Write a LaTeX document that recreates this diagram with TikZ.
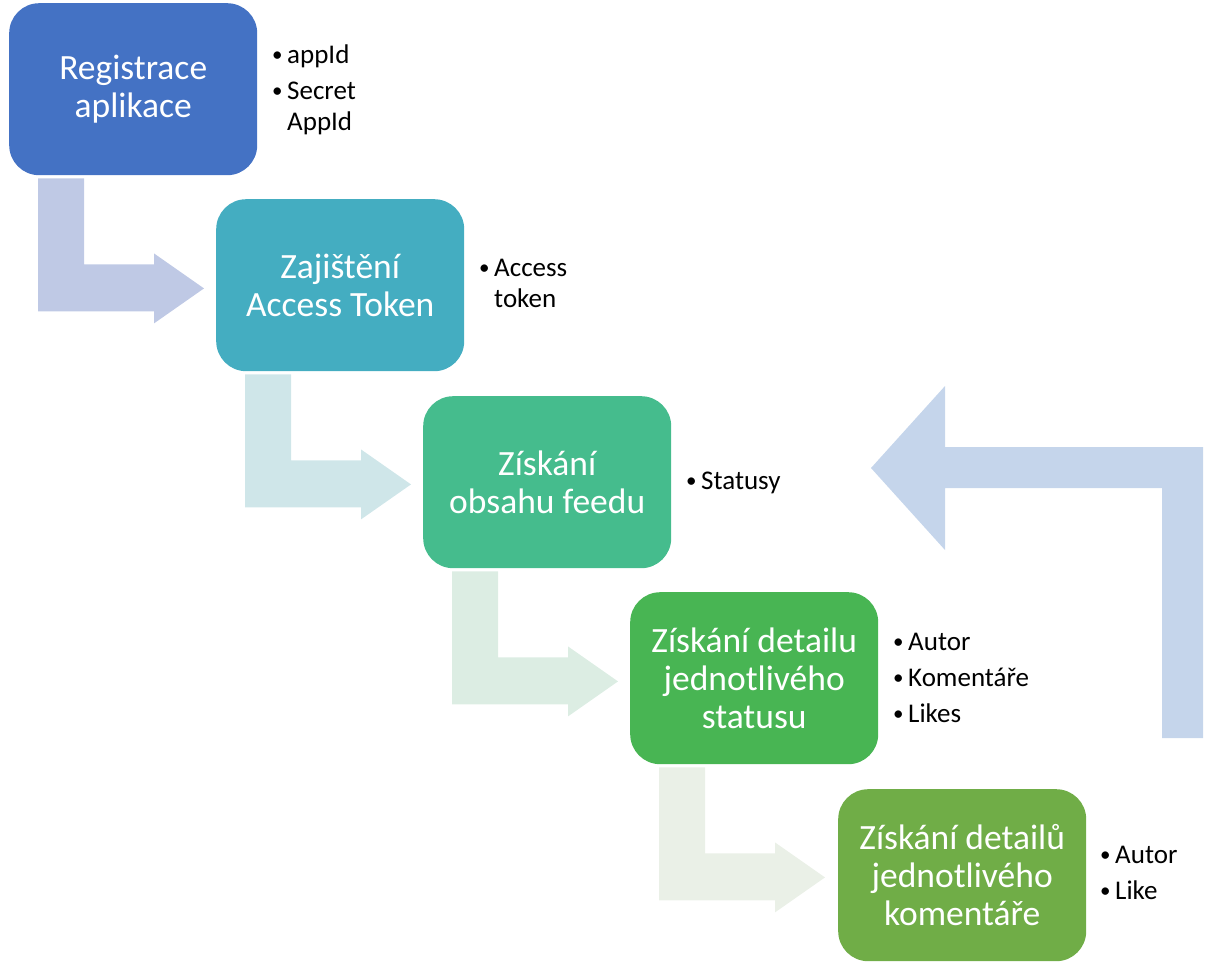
\documentclass[tikz,border=0pt]{standalone}
\usepackage{fontspec}
\setmainfont{Carlito}
\usetikzlibrary{calc}
\definecolor{cA}{HTML}{4472C4}
\definecolor{cB}{HTML}{44ADC1}
\definecolor{cC}{HTML}{45BC8D}
\definecolor{cD}{HTML}{48B553}
\definecolor{cE}{HTML}{70AD47}
\definecolor{aA}{HTML}{BFC9E5}
\definecolor{aB}{HTML}{CFE6E9}
\definecolor{aC}{HTML}{DCEDE3}
\definecolor{aD}{HTML}{EAF0E7}
\definecolor{aR}{HTML}{C5D5EB}
\newcommand\bul{\makebox[16pt][l]{\hspace*{1pt}\raisebox{1.5pt}{\fontsize{21pt}{21pt}\selectfont\textbullet}}}
\newcommand\ind{\hspace*{16pt}}
\tikzset{
  stepbox/.style={rectangle, rounded corners=30pt, minimum width=248pt, minimum height=172pt,
    inner sep=0pt, text=white, align=center, font=\fontsize{35.5pt}{38pt}\selectfont},
  bullist/.style={anchor=base west, inner sep=0pt, align=left, text=black,
    font=\fontsize{27pt}{31pt}\selectfont}
}
\newcommand\bentarrow[2]{%
  \fill[#2, shift={#1}] (0,0) -- (46,0) -- (46,86) -- (116,86) -- (116,75) -- (166,110)
    -- (116,145) -- (116,133) -- (0,133) -- cycle;}
\begin{document}
\begin{tikzpicture}[x=1pt,y=-1pt]
\useasboundingbox (0,0) rectangle (1213,978);
% boxes
\node[stepbox, fill=cA, anchor=north west] (b1) at (9,3) {Registrace\\aplikace};
\node[stepbox, fill=cB, anchor=north west] (b2) at (216,199) {Zajištění\\Access Token};
\node[stepbox, fill=cC, anchor=north west] (b3) at (423,396) {Získání\\obsahu feedu};
\node[stepbox, fill=cD, anchor=north west] (b4) at (630,592) {Získání detailu\\jednotlivého\\statusu};
\node[stepbox, fill=cE, anchor=north west] (b5) at (838,789) {Získání detailů\\jednotlivého\\komentáře};
% bent arrows
\bentarrow{($(b1.south west)+(29,3)$)}{aA}
\bentarrow{($(b2.south west)+(29,3)$)}{aB}
\bentarrow{($(b3.south west)+(29,3)$)}{aC}
\bentarrow{($(b4.south west)+(29,3)$)}{aD}
% return arrow
\coordinate (rt) at (871,468);
\fill[aR] (rt) -- (945,386) -- (945,447) -- (1203,447) -- (1203,738) -- (1162,738)
  -- (1162,488) -- (945,488) -- (945,550) -- cycle;
% bullet lists (anchored at the baseline of their last line)
\node[bullist] (l1) at (271,130) {\bul appId\\[5pt]\bul Secret\\\ind AppId};
\node[bullist] (l2) at (478,307) {\bul Access\\\ind token};
\node[bullist] (l3) at (685,489) {\bul Statusy};
\node[bullist] (l4) at (892,722) {\bul Autor\\[5pt]\bul Komentáře\\[5pt]\bul Likes};
\node[bullist] (l5) at (1099,899) {\bul Autor\\[5pt]\bul Like};
\end{tikzpicture}
\end{document}
